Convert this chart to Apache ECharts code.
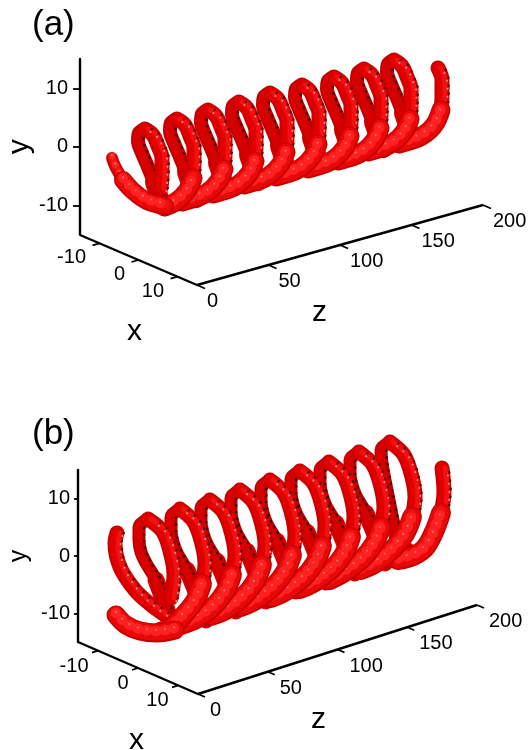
<!DOCTYPE html>
<html><head><meta charset="utf-8">
<style>html,body{margin:0;padding:0;background:#fff}#c{width:531px;height:750px}</style>
<script src="https://cdn.jsdelivr.net/npm/echarts@6/dist/echarts.min.js"></script>
</head><body><div id="c"></div>
<script>
// Tube centre-lines (horizontal, vertical page reading), far turn first.
const aBack = [
 [[394,60],[388,64],[387,72],[391,84],[397,98],[403,113],[408,127],[413,140]],
 [[364,69],[358,73],[357,81],[361,93],[367,107],[373,122],[378,136],[383,149]],
 [[334,77],[328,81],[327,89],[331,101],[337,115],[343,130],[348,144],[353,157]],
 [[302,85],[296,89],[295,97],[299,109],[305,123],[311,138],[316,152],[321,165]],
 [[270,93],[264,97],[263,105],[267,117],[273,131],[279,146],[284,160],[289,173]],
 [[239,102],[233,106],[232,114],[236,126],[242,140],[248,155],[253,169],[258,182]],
 [[208,110],[202,114],[201,122],[205,134],[211,148],[217,163],[222,177],[227,190]],
 [[177,119],[171,123],[170,131],[174,143],[180,157],[186,172],[191,186],[196,199]],
 [[145,129],[139,133],[138,141],[142,153],[148,167],[154,182],[159,196],[164,207]]
];
const aLower = [
 [[399,144],[413,140],[425,134],[435,124],[441,110]],
 [[368,152],[382,148],[394,142],[404,132],[410,119]],
 [[338,161],[352,157],[364,151],[374,141],[380,128]],
 [[308,169],[322,165],[334,159],[344,149],[350,136]],
 [[276,177],[290,173],[302,167],[312,157],[318,144]],
 [[244,185],[258,181],[270,175],[280,165],[286,152]],
 [[213,194],[227,190],[239,184],[249,174],[255,161]],
 [[182,202],[196,198],[208,192],[218,182],[224,169]],
 [[165,207],[177,201],[187,191],[193,178]]
];
const aUpper = [
 [[441,110],[442,95],[442,80],[438,68]],
 [[410,119],[411,104],[411,89],[407,77],[402,66],[394,60]],
 [[380,128],[381,113],[381,98],[377,86],[372,75],[364,69]],
 [[350,136],[351,121],[351,106],[347,94],[342,83],[334,77]],
 [[318,144],[319,129],[319,114],[315,102],[310,91],[302,85]],
 [[286,152],[287,137],[287,122],[283,110],[278,99],[270,93]],
 [[255,161],[256,146],[256,131],[252,119],[247,108],[239,102]],
 [[224,169],[225,154],[225,139],[221,127],[216,116],[208,110]],
 [[193,178],[194,163],[194,148],[190,136],[185,125],[177,119]],
 [[161,188],[162,173],[162,158],[158,146],[153,135],[145,129]]
];
const aStartThin = [[112,158],[115,166],[123,180]];
const aStartWide = [[123,180],[133,191],[147,201],[165,206]];

const bBack = [
 [[390,442],[381,450],[382,463],[385,480],[390,505],[395,528],[402,546],[416,556]],
 [[359,452],[350,460],[350,473],[352,485],[356,496],[366,513],[377,540],[385,563]],
 [[329,462],[320,470],[320,483],[322,495],[326,506],[336,523],[347,550],[355,573]],
 [[300,471],[291,479],[291,492],[293,504],[297,515],[307,532],[318,559],[326,582]],
 [[270,480],[261,488],[261,501],[263,513],[267,524],[277,541],[288,568],[296,591]],
 [[240,490],[231,498],[231,511],[233,523],[237,534],[247,551],[258,578],[266,601]],
 [[210,500],[201,508],[201,521],[203,533],[207,544],[217,561],[228,588],[236,611]],
 [[180,509],[171,517],[171,530],[173,542],[177,553],[187,570],[198,597],[206,620]],
 [[148,519],[139,527],[139,540],[141,552],[146,563],[156,580],[166,607],[174,630]]
];
const bLower = [
 [[398,560],[413,556],[425,548],[434,532],[441,513]],
 [[361,570],[376,563],[393,549],[405,534],[412,517]],
 [[330,580],[345,572],[362,559],[374,544],[381,527]],
 [[300,589],[315,582],[332,569],[344,554],[351,537]],
 [[271,598],[286,591],[303,578],[315,563],[322,546]],
 [[241,607],[256,600],[273,587],[285,572],[292,555]],
 [[211,616],[226,610],[243,597],[255,582],[262,565]],
 [[181,625],[196,619],[213,607],[225,592],[232,575]],
 [[160,632],[172,627],[183,616],[195,601],[202,584]]
];
const bUpper = [
 [[441,513],[444,492],[442,468]],
 [[412,517],[415,497],[412,477],[404,455],[390,442]],
 [[381,527],[384,507],[381,487],[373,465],[359,452]],
 [[351,537],[354,517],[351,497],[343,475],[329,462]],
 [[322,546],[325,526],[322,506],[314,484],[300,471]],
 [[292,555],[295,535],[292,515],[284,493],[270,480]],
 [[262,565],[265,545],[262,525],[254,503],[240,490]],
 [[232,575],[235,555],[232,535],[224,513],[210,500]],
 [[202,584],[205,564],[202,544],[194,522],[180,509]],
 [[171,598],[174,575],[171,555],[163,532],[148,519]]
];
const bStartThin = [[117,533],[115,543],[120,567],[135,590],[150,604],[165,615]];
const bStartWide = [[116,615],[126,625],[140,631],[157,633],[175,630]];

const yTicks = [-10, 0, 10];
const xTicks = [-10, 0, 10];
const zTicks = [0, 50, 100, 150, 200];

const FONT = '"Liberation Sans", Arial, sans-serif';

// Panel frames (axis geometry and text placement)
const panels = [
 {name:'(a)', nameTop:3, nameLeft:27, yTop:59, yBottom:234.5, yLeft:80, yTick:7, yMargin:12, yFont:30, yGap:44,
  origin:[80,235], corner:[197,285], far:[483,205], xOff:[-13,15], zOff:[10.5,17], xTickV:[-7,2], zTickV:[8,3.5],
  xPos:[135,332], zPos:[320,313]},
 {name:'(b)', nameTop:412, nameLeft:27, yTop:470, yBottom:642, yLeft:78, yTick:4, yMargin:8, yFont:25, yGap:46,
  origin:[78,642], corner:[198,694], far:[477,605], xOff:[-9,16], zOff:[12.5,17], xTickV:[-6,2], zTickV:[7,3],
  xPos:[137,741], zPos:[319,720]}
];

const series = [];
function line(points, lw, color, extra) {
  const e = extra || {};
  const dx = e.dx || 0, dy = e.dy || 0;
  series.push({
    type:'line', xAxisIndex:0, yAxisIndex:0, silent:true, animation:false,
    symbol:'none', smooth:e.smooth === undefined ? 0.35 : e.smooth,
    data: points.map(p => [p[0] + dx, p[1] + dy]),
    lineStyle:{width:lw, color:color, cap:e.cap || 'round', join:'round', type:e.dash || 'solid'}
  });
}
function tube(points, w, kind) {
  if (kind === 'back') {
    line(points.slice(-3), w * 1.3, '#d80000');
    line(points, w, '#c00000');
    line(points, w * 0.6, '#d60000', {dx:-1});
    line(points, 2.6, '#3a0000', {dx:w * 0.4, dash:[0.1, 6.5]});
  } else if (kind === 'upper') {
    line(points, w, '#cc0000');
    line(points, w * 0.72, '#e00000', {dx:0.5});
    line(points, w * 0.34, '#f21010', {dx:w * 0.2});
    line(points, 2.4, '#4a0000', {dx:w * 0.45, dash:[0.1, 8]});
    line(points, 2, '#ff9090', {dx:w * 0.36, dy:3, dash:[0.1, 8]});
  } else {
    line(points, w, '#c40000');
    line(points, w - 3, '#e80808', {dy:-0.5});
    line(points, w * 0.45, '#f61212', {dy:-2});
    line(points, w * 0.55, '#fc2222', {dy:-2, dash:[0.1, 9]});
    line(points, 2, '#ff6c6c', {dy:-3, dash:[0.1, 9]});
  }
}
function drawHelix(back, lower, upper, startThin, startWide, wBack, wUp, wLow, startFirst) {
  back.forEach(p => tube(p, wBack, 'back'));
  if (startFirst) tube(startThin, wUp, 'upper');
  upper.forEach((p, i) => {
    tube(p, wUp, 'upper');
    if (lower[i]) tube(lower[i], wLow, 'lower');
  });
  if (!startFirst) tube(startThin, wUp - 3, 'lower');
  tube(startWide, wLow - 1, 'lower');
}
drawHelix(aBack, aLower, aUpper, aStartThin, aStartWide, 14, 15, 19, false);
drawHelix(bBack, bLower, bUpper, bStartThin, bStartWide, 13, 15, 20, true);

// Oblique x and z axes
function along(a, b, t) { return [a[0] + (b[0] - a[0]) * t, a[1] + (b[1] - a[1]) * t]; }
function labels(items, align, size) {
  series.push({
    type:'scatter', xAxisIndex:0, yAxisIndex:0, silent:true, animation:false,
    symbolSize:1, itemStyle:{color:'rgba(0,0,0,0)', opacity:1},
    data:items,
    label:{show:true, position:[0,0], align:align, verticalAlign:'middle',
      formatter:p => p.data[2], color:'#000', fontSize:size, fontFamily:FONT},
    z:5
  });
}
panels.forEach(P => {
  line([P.origin, P.corner, P.far], 2.4, '#000', {smooth:false, cap:'butt'});
  const xPts = xTicks.map(v => along(P.origin, P.corner, (v + 15) / 30));
  const zPts = zTicks.map(v => along(P.corner, P.far, v / 200));
  xPts.forEach(p => line([p, [p[0] + P.xTickV[0], p[1] + P.xTickV[1]]], 1.8, '#000', {smooth:false, cap:'butt'}));
  zPts.forEach(p => line([p, [p[0] + P.zTickV[0], p[1] + P.zTickV[1]]], 1.8, '#000', {smooth:false, cap:'butt'}));
  labels(xTicks.map((v, i) => [xPts[i][0] + P.xOff[0], xPts[i][1] + P.xOff[1], String(v)]), 'right', 20);
  labels(zTicks.map((v, i) => [zPts[i][0] + P.zOff[0], zPts[i][1] + P.zOff[1], String(v)]), 'left', 20);
  labels([[P.xPos[0], P.xPos[1], 'x'], [P.zPos[0], P.zPos[1], 'z']], 'center', 30);
});

const option = {
  backgroundColor:'#fff',
  title:panels.map(P => ({text:P.name, left:P.nameLeft, top:P.nameTop,
    textStyle:{fontSize:35, fontWeight:'normal', fontFamily:FONT, color:'#000'}})),
  grid:[{left:0, top:0, width:531, height:750}].concat(panels.map(P => ({
    left:P.yLeft, top:P.yTop, width:10, height:P.yBottom - P.yTop}))),
  xAxis:[{type:'value', min:0, max:531, show:false, gridIndex:0}].concat(panels.map((P, i) => ({
    type:'value', min:0, max:1, show:false, gridIndex:i + 1}))),
  yAxis:[{type:'value', min:0, max:750, inverse:true, show:false, gridIndex:0}].concat(panels.map((P, i) => ({
    type:'value', min:-15, max:15, gridIndex:i + 1, position:'left',
    name:'y', nameLocation:'middle', nameGap:P.yGap, nameRotate:90,
    nameTextStyle:{fontSize:P.yFont, fontFamily:FONT, color:'#000'},
    splitLine:{show:false},
    axisLine:{show:true, onZero:false, lineStyle:{color:'#000', width:2.4}},
    axisTick:{show:true, customValues:yTicks, length:P.yTick, lineStyle:{color:'#000', width:1.8}},
    axisLabel:{show:true, customValues:yTicks, margin:P.yMargin, color:'#000', fontSize:20, fontFamily:FONT}
  }))),
  series:series
};
echarts.init(document.getElementById('c'), null, {renderer:'canvas'}).setOption(option);
</script></body></html>
